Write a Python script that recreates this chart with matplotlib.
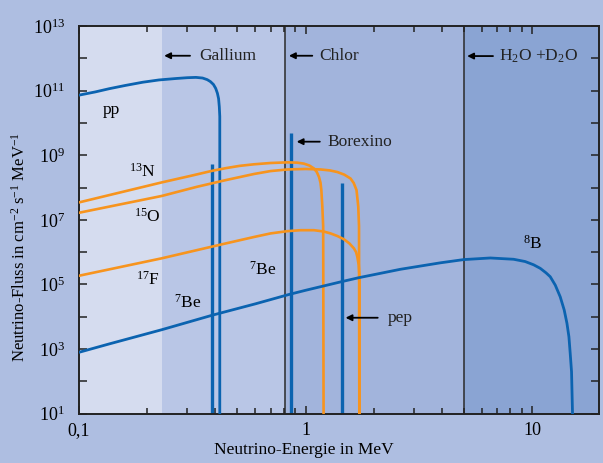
import numpy as np
import matplotlib
matplotlib.use("Agg")
import matplotlib.pyplot as plt
from matplotlib.ticker import LogLocator, NullFormatter

plt.rcParams['font.family'] = ['Liberation Serif', 'DejaVu Serif']
plt.rcParams['mathtext.fontset'] = 'custom'
plt.rcParams['mathtext.rm'] = 'Liberation Serif'
plt.rcParams['mathtext.it'] = 'Liberation Serif:italic'

# spectra: energy (MeV), log10 flux
pp_E = [0.1, 0.118, 0.136, 0.16, 0.191, 0.225, 0.2675, 0.3, 0.328, 0.351, 0.368, 0.38,
        0.392, 0.401, 0.408, 0.413, 0.416, 0.418, 0.418]
pp_log = [10.86, 10.96, 11.06, 11.16, 11.26, 11.33, 11.375, 11.40, 11.41, 11.39, 11.34, 11.28,
          11.19, 11.07, 10.92, 10.75, 10.5, 10.2, 1.0]

n13_E = [0.1, 0.232, 0.31, 0.388, 0.444, 0.51, 0.592, 0.7, 0.831, 0.92, 0.983, 1.04,
         1.088, 1.12, 1.145, 1.163, 1.173, 1.185, 1.195, 1.2]
n13_log = [7.54, 8.16, 8.36, 8.52, 8.60, 8.67, 8.72, 8.76, 8.78, 8.77, 8.74, 8.68,
           8.59, 8.48, 8.33, 8.15, 7.92, 7.41, 6.8, 1.0]

o15_E = [0.1, 0.232, 0.33, 0.444, 0.592, 0.7, 0.831, 1.0, 1.164, 1.28, 1.38, 1.48,
         1.578, 1.63, 1.677, 1.707, 1.72, 1.725]
o15_log = [7.22, 7.74, 8.02, 8.23, 8.42, 8.51, 8.56, 8.575, 8.56, 8.53, 8.48, 8.40,
           8.28, 8.14, 7.92, 7.41, 6.8, 1.0]

f17_E = [0.1, 0.232, 0.33, 0.444, 0.592, 0.7, 0.831, 0.95, 1.088, 1.2, 1.288, 1.38,
         1.475, 1.56, 1.632, 1.67, 1.69, 1.715, 1.73, 1.73]
f17_log = [5.27, 5.81, 6.06, 6.27, 6.47, 6.58, 6.65, 6.68, 6.68, 6.64, 6.58, 6.50,
           6.40, 6.27, 6.12, 6.0, 5.86, 5.60, 5.2, 1.0]

b8_E = [0.1, 0.136, 0.232, 0.388, 0.6, 0.844, 1.0, 1.427, 1.717, 2.62, 3.93, 4.98, 6.53,
        8.27, 9.3, 10.13, 10.84, 11.5, 12.0, 12.63, 13.28, 13.83, 14.22, 14.51, 14.70,
        14.9, 15.05]
b8_log = [2.90, 3.16, 3.60, 4.05, 4.40, 4.69, 4.82, 5.08, 5.21, 5.47, 5.67, 5.77, 5.82,
          5.78, 5.71, 5.61, 5.50, 5.36, 5.24, 4.98, 4.62, 4.21, 3.80, 3.38, 2.87,
          2.3, 1.0]

# monoenergetic lines: energy, log10 flux
line_E = [0.386, 0.862, 1.445]
line_log = [8.73, 9.68, 8.15]

# detector thresholds (MeV)
thresholds = [0.233, 0.814, 5.0]

blue = '#0b63b0'
orange = '#f7941e'

fig = plt.figure(figsize=(6.03, 4.63), dpi=100, facecolor='#aebee1')
ax = fig.add_axes([0.131, 0.1065, 0.8624, 0.8373])
ax.set_xscale('log')
ax.set_yscale('log')
ax.set_xlim(0.1, 19.7)
ax.set_ylim(1e1, 1e13)

# background bands
ax.axvspan(0.1, thresholds[0], color='#d5dcef', zorder=0, lw=0)
ax.axvspan(thresholds[0], thresholds[1], color='#b9c6e6', zorder=0, lw=0)
ax.axvspan(thresholds[1], thresholds[2], color='#a2b4dc', zorder=0, lw=0)
ax.axvspan(thresholds[2], 19.7, color='#8aa4d3', zorder=0, lw=0)
for t in thresholds[1:]:
    ax.axvline(t, color='#2a2a2a', lw=1.1, zorder=1)

# spectra
ax.plot(pp_E, 10 ** np.array(pp_log), color=blue, lw=2.0, zorder=3)
ax.plot(b8_E, 10 ** np.array(b8_log), color=blue, lw=2.0, zorder=4)
for E, lg in zip([n13_E, o15_E, f17_E], [n13_log, o15_log, f17_log]):
    ax.plot(E, 10 ** np.array(lg), color=orange, lw=1.9, zorder=3)
ax.vlines(line_E, 1e1, 10 ** np.array(line_log), color=blue, lw=2.4, zorder=2)

# labels of the sources
fs = 12.5
ax.text(0.1383, 10 ** 10.40, 'pp', fontsize=fs, ha='center', va='center')
ax.text(0.1914, 10 ** 8.48, r'$^{13}$N', fontsize=fs, ha='center', va='center')
ax.text(0.1994, 10 ** 7.10, r'$^{15}$O', fontsize=fs, ha='center', va='center')
ax.text(0.2014, 10 ** 5.14, r'$^{17}$F', fontsize=fs, ha='center', va='center')
ax.text(0.302, 10 ** 4.43, r'$^{7}$Be', fontsize=fs, ha='center', va='center')
ax.text(0.6466, 10 ** 5.45, r'$^{7}$Be', fontsize=fs, ha='center', va='center')
ax.text(10.0, 10 ** 6.27, r'$^{8}$B', fontsize=fs, ha='center', va='center')

# detector / line annotations
arrows = [
    ('Gallium', 0.2376, 0.309, 0.339, 12.08),
    ('Chlor', 0.844, 1.07, 1.153, 12.08),
    (r'H$_2$O +D$_2$O', 5.16, 6.71, 7.10, 12.07),
    ('Borexino', 0.913, 1.155, 1.245, 9.42),
    ('pep', 1.50, 2.08, 2.305, 3.97),
]
for label, head, tail, tx, lg in arrows:
    y = 10 ** lg
    ax.annotate('', xy=(head, y), xytext=(tail, y),
                arrowprops=dict(arrowstyle='-|>', color='black', lw=1.3,
                                mutation_scale=9, shrinkA=0, shrinkB=0))
    ax.text(tx, y, label, fontsize=fs, ha='left', va='center', color='#222222')

# ticks
ax.set_xticks([0.1, 1, 10])
ax.set_xticklabels(['0,1', '1', '10'])
ax.xaxis.set_minor_locator(LogLocator(base=10, subs=np.arange(2, 10)))
ax.xaxis.set_minor_formatter(NullFormatter())
exps = np.arange(1, 14)
ax.set_yticks([10.0 ** k for k in exps])
ax.set_yticklabels([r'$10^{%d}$' % k if k % 2 == 1 else '' for k in exps])
ax.yaxis.set_minor_locator(plt.NullLocator())
ax.tick_params(which='both', direction='in', top=True, right=True, labelsize=13,
               color='#222222', width=1.1)
ax.tick_params(which='major', length=6)
ax.tick_params(which='minor', length=4)
ax.tick_params(axis='x', pad=6)
ax.tick_params(axis='y', pad=10)
for s in ax.spines.values():
    s.set_linewidth(1.4)
    s.set_color('#222222')

ax.set_xlabel('Neutrino-Energie in MeV', fontsize=12.5)
ax.xaxis.set_label_coords(0.433, -0.074)
ax.set_ylabel(r'Neutrino-Fluss in cm$^{-2}$ s$^{-1}$ MeV$^{-1}$', fontsize=12)
ax.yaxis.set_label_coords(-0.097, 0.43)

fig.savefig('out.png', dpi=100, facecolor=fig.get_facecolor())
